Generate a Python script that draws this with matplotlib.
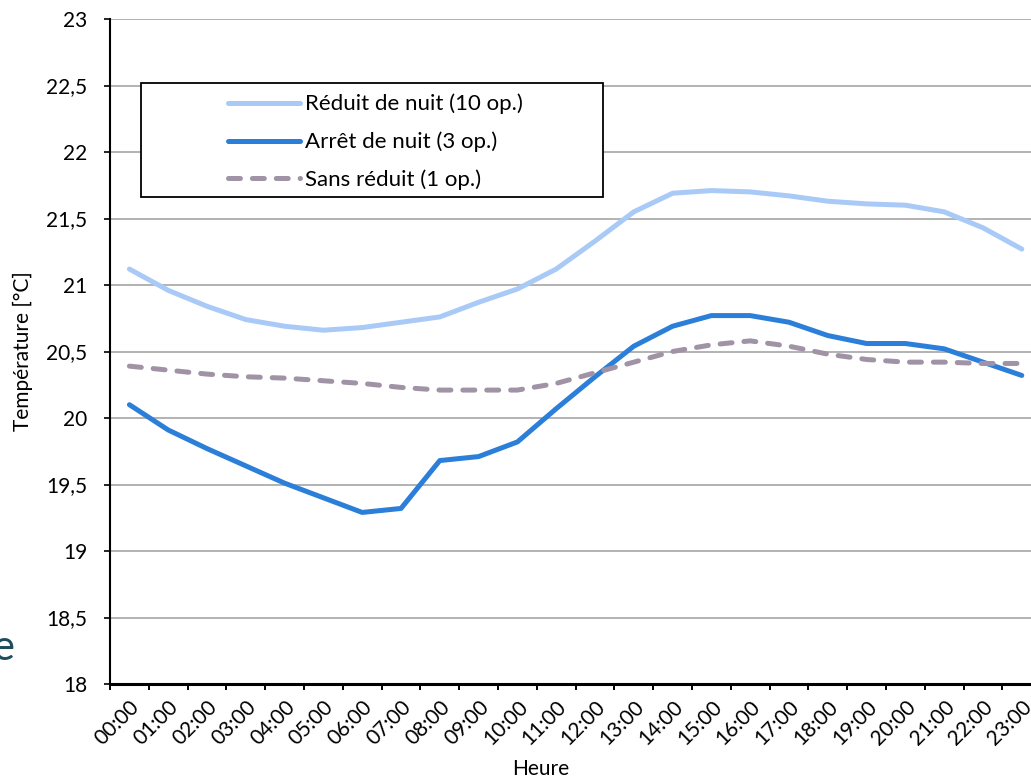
import matplotlib
matplotlib.use("Agg")
import matplotlib.pyplot as plt
from matplotlib.patches import Rectangle
import numpy as np

plt.rcParams['font.family'] = ['Lato', 'DejaVu Sans']
plt.rcParams['lines.scale_dashes'] = False

# Hourly indoor temperature for three heating strategies
hours = [f"{h:02d}:00" for h in range(24)]

reduit_nuit = [21.12, 20.96, 20.84, 20.74, 20.69, 20.66, 20.68, 20.72, 20.76, 20.87,
               20.97, 21.12, 21.33, 21.55, 21.69, 21.71, 21.70, 21.67, 21.63, 21.61,
               21.60, 21.55, 21.43, 21.27]
arret_nuit = [20.10, 19.91, 19.77, 19.64, 19.51, 19.40, 19.29, 19.32, 19.68, 19.71,
              19.82, 20.07, 20.31, 20.54, 20.69, 20.77, 20.77, 20.72, 20.62, 20.56,
              20.56, 20.52, 20.42, 20.32]
sans_reduit = [20.39, 20.36, 20.33, 20.31, 20.30, 20.28, 20.26, 20.23, 20.21, 20.21,
               20.21, 20.26, 20.34, 20.42, 20.50, 20.55, 20.58, 20.54, 20.48, 20.44,
               20.42, 20.42, 20.41, 20.41]

labels = ["Réduit de nuit (10 op.)", "Arrêt de nuit (3 op.)", "Sans réduit (1 op.)"]
y_ticks = [18, 18.5, 19, 19.5, 20, 20.5, 21, 21.5, 22, 22.5, 23]

FS = 15
LEG_FS = 16
W, H = 1031, 779
fig = plt.figure(figsize=(W / 100, H / 100), dpi=100)
ax = fig.add_axes([110 / W, 95 / H, 931.2 / W, 665 / H])

x = np.arange(len(hours))
common = dict(solid_joinstyle='round', solid_capstyle='round',
              dash_capstyle='round', dash_joinstyle='round', lw=3.6, zorder=3)
ax.plot(x, reduit_nuit, color='#A9CAF6', label=labels[0], **common)
ax.plot(x, arret_nuit, color='#2B7FD8', label=labels[1], **common)
ax.plot(x, sans_reduit, color='#A093A5', label=labels[2],
        dashes=(8.6, 8.6), **common)

ax.set_xlim(-0.5, 23.5)
ax.set_ylim(18, 23)

# y axis
ax.set_yticks(y_ticks)
ax.set_yticklabels([f"{v:g}".replace('.', ',') for v in y_ticks])
ax.yaxis.grid(True, color='#A6A6A6', lw=1.2, zorder=0)
ax.tick_params(axis='y', which='major', length=4.5, width=1.2, pad=12,
               labelsize=FS, colors='black')

# x axis: ticks on category boundaries, labels at category centres
ax.set_xticks(np.arange(-0.5, 24, 1.0))
ax.set_xticklabels([])
ax.set_xticks(x, minor=True)
ax.set_xticklabels(hours, minor=True, rotation=45, ha='right',
                   rotation_mode='anchor', fontsize=FS)
ax.tick_params(axis='x', which='major', length=4.5, width=1.4, direction='out')
ax.tick_params(axis='x', which='minor', length=0, pad=9)

for side in ('top', 'right'):
    ax.spines[side].set_visible(False)
ax.spines['left'].set_linewidth(1.5)
ax.spines['bottom'].set_linewidth(2.2)
ax.set_axisbelow(True)

fig.text(541 / W, 1 - 769 / H, "Heure", ha='center', va='center', fontsize=FS)
fig.text(23 / W, 1 - 351 / H, "Température [°C]", ha='center', va='center',
         rotation=90, fontsize=FS)

# legend frame and entries
frame = Rectangle((141 / W, 1 - 197 / H), 462 / W, 114 / H,
                  transform=fig.transFigure, facecolor='white',
                  edgecolor='black', lw=1.3, zorder=4)
ax.add_patch(frame)
frame.set_clip_on(False)
leg = ax.legend(loc='center left', bbox_to_anchor=(228 / W, 1 - 142 / H),
                bbox_transform=fig.transFigure, frameon=False, fontsize=LEG_FS,
                handlelength=3.24, handletextpad=0.225, labelspacing=0.78,
                borderpad=0, borderaxespad=0)
leg.set_zorder(5)

# fragment of neighbouring slide text
fig.text(14 / W, 1 - 648 / H, "e", ha='right', va='center', fontsize=30,
         color='#1D4E5B')

fig.savefig("out.png", dpi=100)
